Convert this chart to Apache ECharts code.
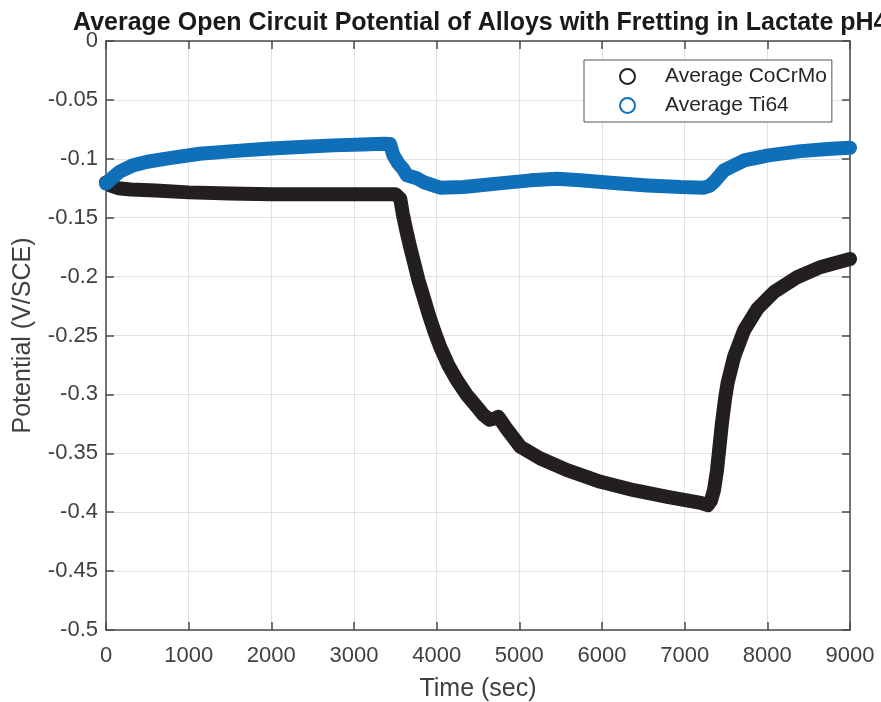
<!DOCTYPE html>
<html>
<head>
<meta charset="utf-8">
<script src="https://cdn.jsdelivr.net/npm/echarts@6/dist/echarts.min.js"></script>
<style>
  html, body { margin: 0; padding: 0; background: #fff; }
  #chart { width: 881px; height: 702px; }
</style>
</head>
<body>
<div id="chart"></div>
<script>
// Open circuit potential (V vs SCE) over time, averaged per alloy.
const cocrmoTime = [0, 50, 150, 300, 600, 1000, 1500, 2000, 2500, 3000, 3300, 3500,
  3560, 3590, 3630, 3679, 3730, 3780, 3840, 3901, 3970, 4042, 4140, 4245, 4360, 4487,
  4560, 4640, 4700, 4745, 4790, 4830, 5012, 5255, 5578, 5982, 6386, 6790, 7194, 7280, 7320,
  7355, 7390, 7420, 7450, 7490, 7520, 7598, 7719, 7881, 8083, 8366, 8648, 9000];
const cocrmoPotential = [-0.120, -0.1225, -0.125, -0.126, -0.127, -0.1285, -0.1295, -0.130, -0.130, -0.130, -0.130, -0.130,
  -0.134, -0.1466, -0.160, -0.1749, -0.189, -0.2031, -0.217, -0.2314, -0.246, -0.2597, -0.275, -0.288, -0.300, -0.3106,
  -0.317, -0.3215, -0.3205, -0.319, -0.3235, -0.3276, -0.3445, -0.3544, -0.3643, -0.3742, -0.3813, -0.3869, -0.392, -0.394, -0.390,
  -0.381, -0.365, -0.345, -0.325, -0.303, -0.290, -0.268, -0.2455, -0.2272, -0.213, -0.2003, -0.1918, -0.185];

const ti64Time = [0, 80, 164, 325, 500, 730, 1133, 1537, 1942, 2345, 2749, 3100, 3355, 3436,
  3476, 3537, 3598, 3639, 3760, 3840, 4042, 4325, 4730, 5133, 5457, 5739, 6143, 6548, 6952,
  7234, 7300, 7355, 7476, 7558, 7719, 8014, 8406, 8770, 9000];
const ti64Potential = [-0.121, -0.116, -0.111, -0.1056, -0.1025, -0.0999, -0.0957, -0.0935, -0.0915, -0.090, -0.0886, -0.0878, -0.0872, -0.0875,
  -0.097, -0.104, -0.109, -0.114, -0.1165, -0.1197, -0.1245, -0.124, -0.1211, -0.1183, -0.1169, -0.1183, -0.1206, -0.1226, -0.124,
  -0.1245, -0.123, -0.1197, -0.1098, -0.107, -0.1014, -0.0971, -0.0935, -0.0915, -0.0906];

const xTickLabels = ['0', '1000', '2000', '3000', '4000', '5000', '6000', '7000', '8000', '9000'];
const yTickLabels = ['0', '-0.05', '-0.1', '-0.15', '-0.2', '-0.25', '-0.3', '-0.35', '-0.4', '-0.45', '-0.5'];

const seriesNames = ['Average CoCrMo', 'Average Ti64'];
const seriesColors = ['#231f20', '#0f6fb9'];

const pair = (xs, ys) => xs.map((x, i) => [x, ys[i]]);

const FONT = '"Liberation Sans", Arial, Helvetica, sans-serif';
const AXIS_COLOR = '#4a4a4a';
const TEXT_COLOR = '#404040';

const xLabel = v => xTickLabels[Math.round(v / 1000)] ?? '';
const yLabel = v => yTickLabels[Math.round(-v / 0.05)] ?? '';

const baseX = {
  type: 'value', min: 0, max: 9000, interval: 1000,
  axisLine: { show: true, onZero: false, lineStyle: { color: AXIS_COLOR, width: 1.5 } },
  axisTick: { show: true, inside: true, length: 8, lineStyle: { color: AXIS_COLOR, width: 1.5 } },
  splitLine: { show: false }
};
const baseY = {
  type: 'value', min: -0.5, max: 0, interval: 0.05,
  axisLine: { show: true, onZero: false, lineStyle: { color: AXIS_COLOR, width: 1.5 } },
  axisTick: { show: true, inside: true, length: 8, lineStyle: { color: AXIS_COLOR, width: 1.5 } },
  splitLine: { show: false }
};

const chart = echarts.init(document.getElementById('chart'), null, { renderer: 'canvas' });

const makeSeries = (i, xs, ys) => ({
  name: seriesNames[i],
  type: 'line',
  xAxisIndex: 0,
  yAxisIndex: 0,
  data: pair(xs, ys),
  showSymbol: false,
  symbol: 'emptyCircle',
  symbolSize: 12,
  itemStyle: { color: seriesColors[i], borderColor: seriesColors[i], borderWidth: 1.5 },
  lineStyle: { color: seriesColors[i], width: 14, cap: 'round', join: 'round' },
  emphasis: { disabled: true },
  animation: false
});

chart.setOption({
  animation: false,
  backgroundColor: '#ffffff',
  title: {
    text: 'Average Open Circuit Potential of Alloys with Fretting in Lactate pH4',
    left: 68, top: 6,
    textStyle: { fontFamily: FONT, fontSize: 25, fontWeight: 'bold', color: '#1a1a1a' }
  },
  grid: { left: 106, right: 31, top: 41, bottom: 72, containLabel: false, outerBoundsMode: 'none' },
  legend: {
    data: seriesNames.map(n => ({ name: n, icon: 'emptyCircle' })),
    orient: 'vertical',
    left: 584, top: 60,
    padding: [6, 5, 6, 35],
    itemGap: 8,
    itemWidth: 15, itemHeight: 15,
    backgroundColor: '#ffffff',
    borderColor: '#555555', borderWidth: 1,
    borderRadius: 0,
    itemStyle: { borderWidth: 1.6 },
    textStyle: { fontFamily: FONT, fontSize: 21, color: '#262626', padding: [0, 0, 0, 25] },
    selectedMode: false
  },
  xAxis: [
    Object.assign({}, baseX, {
      position: 'bottom',
      name: 'Time (sec)', nameLocation: 'middle', nameGap: 47,
      nameTextStyle: { fontFamily: FONT, fontSize: 25, color: TEXT_COLOR },
      axisLabel: { show: true, margin: 15, formatter: xLabel, fontFamily: FONT, fontSize: 22, color: TEXT_COLOR },
      splitLine: { show: true, lineStyle: { color: '#e1e1e1', width: 1 } }
    }),
    Object.assign({}, baseX, { position: 'top', axisLabel: { show: false } })
  ],
  yAxis: [
    Object.assign({}, baseY, {
      position: 'left',
      name: 'Potential (V/SCE)', nameLocation: 'middle', nameGap: 70, nameRotate: 90,
      nameTextStyle: { fontFamily: FONT, fontSize: 25, color: TEXT_COLOR },
      axisLabel: { show: true, margin: 8, formatter: yLabel, fontFamily: FONT, fontSize: 22, color: TEXT_COLOR },
      splitLine: { show: true, lineStyle: { color: '#e1e1e1', width: 1 } }
    }),
    Object.assign({}, baseY, { position: 'right', axisLabel: { show: false } })
  ],
  series: [
    makeSeries(0, cocrmoTime, cocrmoPotential),
    makeSeries(1, ti64Time, ti64Potential)
  ]
});
</script>
</body>
</html>
